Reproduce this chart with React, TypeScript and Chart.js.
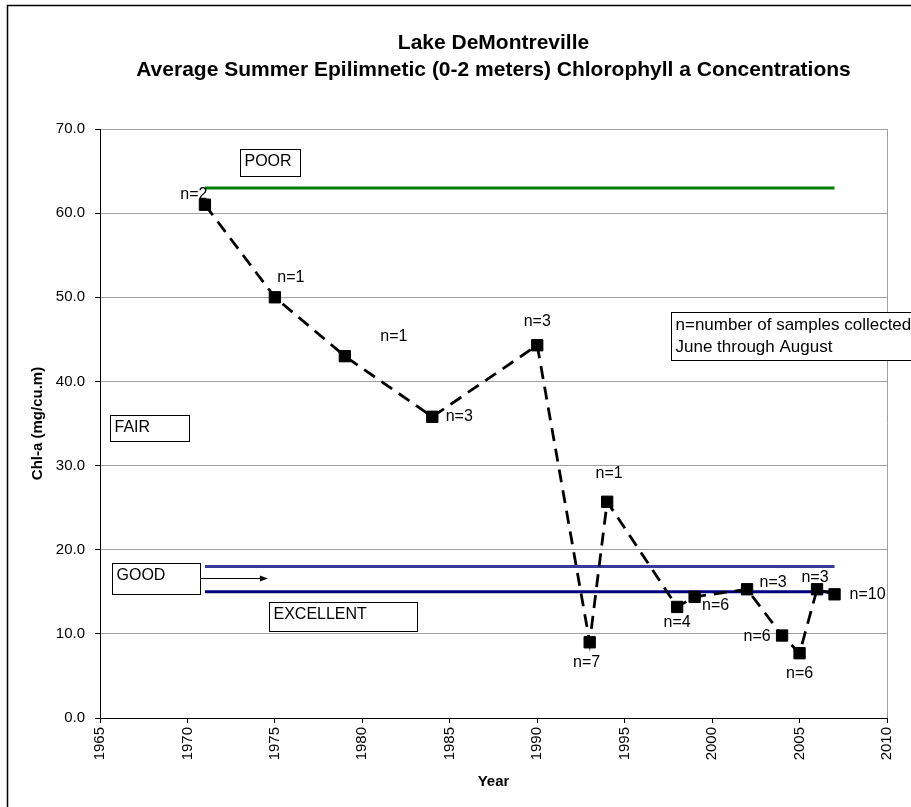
import React, { useEffect, useRef } from "react";
import { Chart, registerables } from "chart.js";

Chart.register(...registerables);

// ---------- data ----------
const years = [1971, 1975, 1979, 1984, 1990, 1993, 1994, 1998, 1999, 2002, 2004, 2005, 2006, 2007];
const chla = [61.0, 50.0, 43.0, 35.8, 44.3, 9.0, 25.7, 13.2, 14.4, 15.3, 9.8, 7.7, 15.3, 14.7];
const sampleCounts = ["n=2", "n=1", "n=1", "n=3", "n=3", "n=7", "n=1", "n=4", "n=6", "n=3", "n=6", "n=6", "n=3", "n=10"];

const criteriaSpan = [1971, 2007];
const poorLevel = 63;
const goodLevel = 18;
const excellentLevel = 15;

const xTicks = [1965, 1970, 1975, 1980, 1985, 1990, 1995, 2000, 2005, 2010];
const yTicks = [0, 10, 20, 30, 40, 50, 60, 70];

const titleLines = [
  "Lake DeMontreville",
  "Average Summer Epilimnetic (0-2 meters) Chlorophyll a Concentrations",
];
const yTitle = "Chl-a (mg/cu.m)";
const xTitle = "Year";

// ---------- annotation placement (pixel offsets / data-unit boxes) ----------
const labelOffsets: [number, number][] = [
  [-11, -10], [16, -20], [49, -20], [27, 0], [0, -24], [-3, 20], [2, -28],
  [0, 16], [21, 9], [26, -7], [-25, 1], [0, 20], [-2, -12], [33, 0],
];

const zoneBoxes = [
  { text: ["POOR"], x0: 1973.0, x1: 1976.45, y0: 67.6, y1: 64.4, size: 16 },
  { text: ["FAIR"], x0: 1965.6, x1: 1970.1, y0: 36.0, y1: 32.9, size: 16 },
  { text: ["GOOD"], x0: 1965.67, x1: 1970.72, y0: 18.45, y1: 14.7, size: 16 },
  { text: ["EXCELLENT"], x0: 1974.66, x1: 1983.14, y0: 13.8, y1: 10.35, size: 16 },
  { text: ["n=number of samples collected", "June through August"], x0: 1997.65, x1: 2013, y0: 48.3, y1: 42.5, size: 17 },
];
const arrow = { x0: 1970.72, x1: 1974.6, y: 16.64 };

const FONT = '"Liberation Sans", Arial, sans-serif';

const decorPlugin = {
  id: "decor",
  beforeDraw(chart: any) {
    const ctx = chart.ctx;
    ctx.save();
    ctx.fillStyle = "#ffffff";
    ctx.fillRect(0, 0, chart.width, chart.height);
    ctx.strokeStyle = "#000";
    ctx.lineWidth = 1.5;
    ctx.strokeRect(7.5, 5.5, chart.width + 20, chart.height + 20);
    ctx.restore();
  },
  beforeDatasetsDraw(chart: any) {
    const { ctx, chartArea } = chart;
    ctx.save();
    ctx.strokeStyle = "#a0a0a0";
    ctx.lineWidth = 1;
    const x = Math.round(chartArea.right) + 0.5;
    ctx.beginPath();
    ctx.moveTo(x, chartArea.top);
    ctx.lineTo(x, chartArea.bottom);
    ctx.stroke();
    ctx.restore();
  },
  afterDatasetsDraw(chart: any) {
    const ctx = chart.ctx;
    const meta = chart.getDatasetMeta(0);
    ctx.save();
    ctx.fillStyle = "#000";
    ctx.font = `16px ${FONT}`;
    ctx.textAlign = "center";
    ctx.textBaseline = "middle";
    meta.data.forEach((pt: any, i: number) => {
      const [dx, dy] = labelOffsets[i];
      ctx.fillText(sampleCounts[i], pt.x + dx, pt.y + dy);
    });
    ctx.restore();
  },
  afterDraw(chart: any) {
    const ctx = chart.ctx;
    const xs = chart.scales.x;
    const ys = chart.scales.y;
    ctx.save();
    // arrow
    const ay = Math.round(ys.getPixelForValue(arrow.y)) + 0.5;
    const ax0 = xs.getPixelForValue(arrow.x0);
    const ax1 = xs.getPixelForValue(arrow.x1);
    ctx.strokeStyle = "#000";
    ctx.lineWidth = 1;
    ctx.beginPath();
    ctx.moveTo(ax0, ay);
    ctx.lineTo(ax1 - 6, ay);
    ctx.stroke();
    ctx.fillStyle = "#000";
    ctx.beginPath();
    ctx.moveTo(ax1, ay);
    ctx.lineTo(ax1 - 8, ay - 3);
    ctx.lineTo(ax1 - 8, ay + 3);
    ctx.closePath();
    ctx.fill();
    // boxes
    ctx.textAlign = "left";
    ctx.textBaseline = "middle";
    zoneBoxes.forEach((b) => {
      const l = Math.round(xs.getPixelForValue(b.x0)) + 0.5;
      const r = Math.round(xs.getPixelForValue(b.x1)) + 0.5;
      const t = Math.round(ys.getPixelForValue(b.y0)) + 0.5;
      const bt = Math.round(ys.getPixelForValue(b.y1)) + 0.5;
      ctx.fillStyle = "#fff";
      ctx.fillRect(l, t, r - l, bt - t);
      ctx.strokeStyle = "#000";
      ctx.lineWidth = 1;
      ctx.strokeRect(l, t, r - l, bt - t);
      ctx.fillStyle = "#000";
      ctx.font = `${b.size}px ${FONT}`;
      b.text.forEach((line, i) => {
        ctx.fillText(line, l + 4, t + 12.5 + i * 22);
      });
    });
    ctx.restore();
  },
};

export default function App() {
  const canvasRef = useRef<HTMLCanvasElement | null>(null);

  useEffect(() => {
    const canvas = canvasRef.current;
    if (!canvas) return;
    const seg = (lvl: number) => [
      { x: criteriaSpan[0], y: lvl },
      { x: criteriaSpan[1], y: lvl },
    ];
    const chart = new Chart(canvas, {
      type: "line",
      data: {
        datasets: [
          {
            label: "Chl-a",
            data: years.map((yr, i) => ({ x: yr, y: chla[i] })),
            borderColor: "#000",
            borderWidth: 2.8,
            borderDash: [13, 8],
            pointStyle: "rect",
            pointRadius: 8,
            pointBorderWidth: 1,
            pointBackgroundColor: "#000",
            pointBorderColor: "#000",
            fill: false,
            tension: 0,
            order: 0,
          },
          {
            label: "Poor",
            data: seg(poorLevel),
            borderColor: "#008000",
            borderWidth: 3,
            pointRadius: 0,
            fill: false,
            order: 1,
          },
          {
            label: "Good",
            data: seg(goodLevel),
            borderColor: "#3a3a9c",
            borderWidth: 3,
            pointRadius: 0,
            fill: false,
            order: 1,
          },
          {
            label: "Excellent",
            data: seg(excellentLevel),
            borderColor: "#000080",
            borderWidth: 3,
            pointRadius: 0,
            fill: false,
            order: 1,
          },
        ],
      },
      options: {
        animation: false,
        responsive: false,
        devicePixelRatio: 1,
        events: [],
        layout: { padding: { left: 7, top: 0, right: 24, bottom: 0 } },
        plugins: {
          legend: { display: false },
          tooltip: { enabled: false },
          title: {
            display: true,
            fullSize: false,
            text: titleLines,
            color: "#000",
            font: { family: FONT, size: 21, weight: "bold", lineHeight: 27 / 21 },
            padding: { top: 30, bottom: 45 },
          },
        },
        scales: {
          x: {
            type: "linear",
            min: xTicks[0],
            max: xTicks[xTicks.length - 1],
            afterBuildTicks: (scale: any) => {
              scale.ticks = xTicks.map((v) => ({ value: v }));
            },
            afterFit: (scale: any) => {
              scale.height = 89;
            },
            ticks: {
              color: "#000",
              font: { family: FONT, size: 15 },
              minRotation: 90,
              maxRotation: 90,
              padding: 4,
              callback: (v: any) => String(v),
            },
            grid: {
              drawOnChartArea: false,
              drawTicks: true,
              tickLength: 5,
              tickColor: "#000",
            },
            border: { display: true, color: "#000", width: 1 },
            title: {
              display: true,
              text: xTitle,
              color: "#000",
              font: { family: FONT, size: 15, weight: "bold", lineHeight: 1.2 },
              padding: { top: 0, bottom: 16 },
            },
          },
          y: {
            type: "linear",
            min: yTicks[0],
            max: yTicks[yTicks.length - 1],
            afterBuildTicks: (scale: any) => {
              scale.ticks = yTicks.map((v) => ({ value: v }));
            },
            afterFit: (scale: any) => {
              scale.width = 93;
            },
            ticks: {
              color: "#000",
              font: { family: FONT, size: 15 },
              padding: 10,
              callback: (v: any) => Number(v).toFixed(1),
            },
            grid: {
              color: "#a0a0a0",
              lineWidth: 1,
              drawTicks: true,
              tickLength: 5,
              tickColor: "#000",
            },
            border: { display: true, color: "#000", width: 1 },
            title: {
              display: true,
              text: yTitle,
              color: "#000",
              font: { family: FONT, size: 15, weight: "bold", lineHeight: 1.2 },
              padding: { top: 22, bottom: 0 },
            },
          },
        },
      },
      plugins: [decorPlugin],
    } as any);
    return () => chart.destroy();
  }, []);

  return (
    <div style={{ position: "fixed", left: 0, top: 0, width: 911, height: 807 }}>
      <canvas ref={canvasRef} width={911} height={807} style={{ display: "block" }} />
    </div>
  );
}
